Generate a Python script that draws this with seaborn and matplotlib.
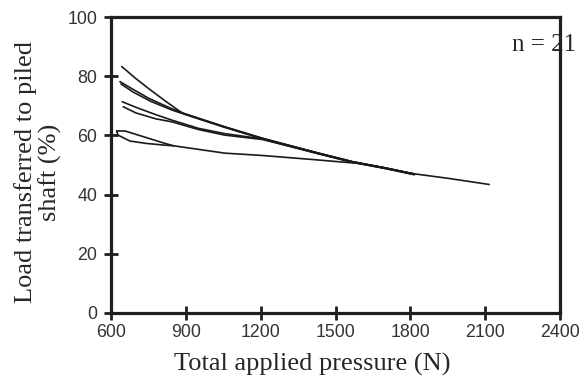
import matplotlib
matplotlib.use("Agg")
import matplotlib.pyplot as plt
import seaborn as sns
import pandas as pd

# Each loop: loading branch and unloading branch (x in N, y in %)
c1_x = [643, 700, 750, 820, 885, 960, 1056, 1208, 1436, 1568, 1700, 1816]
c1_y = [83.3, 79.2, 75.9, 71.5, 67.6, 65.5, 62.9, 59.0, 53.9, 51.1, 49.0, 46.9]

c2a_x = [636, 680, 750, 844, 900, 1056, 1208, 1436, 1568, 1700, 1816]
c2a_y = [78.2, 76.0, 72.6, 69.0, 67.2, 62.9, 59.0, 53.9, 51.1, 49.0, 46.9]
c2b_x = [640, 690, 760, 844, 900, 1056, 1208, 1436, 1568, 1700, 1816]
c2b_y = [77.4, 74.6, 71.5, 68.6, 67.0, 62.7, 58.8, 53.7, 50.9, 48.8, 46.7]

c3a_x = [645, 700, 780, 843, 950, 1056, 1208, 1436, 1568, 1816, 1950, 2116]
c3a_y = [71.4, 69.5, 67.0, 65.2, 62.4, 60.6, 58.8, 53.9, 51.1, 47.0, 45.5, 43.4]
c3b_x = [649, 700, 780, 844, 950, 1056, 1208, 1436, 1568, 1700, 1816]
c3b_y = [69.7, 67.6, 65.6, 64.6, 62.0, 60.1, 58.6, 53.7, 50.9, 48.8, 46.8]

c4a_x = [623, 656, 740, 816, 850, 1056, 1208, 1400, 1596, 1700, 1816]
c4a_y = [61.5, 61.5, 59.3, 57.3, 56.5, 54.0, 53.2, 51.9, 50.5, 49.0, 46.9]
c4b_x = [623, 628, 676, 740, 816, 850]
c4b_y = [61.5, 60.1, 58.1, 57.3, 56.7, 56.5]

x_ticks = [600, 900, 1200, 1500, 1800, 2100, 2400]
y_ticks = [0, 20, 40, 60, 80, 100]

series = {
    "c1": (c1_x, c1_y), "c2a": (c2a_x, c2a_y), "c2b": (c2b_x, c2b_y),
    "c3a": (c3a_x, c3a_y), "c3b": (c3b_x, c3b_y),
    "c4a": (c4a_x, c4a_y), "c4b": (c4b_x, c4b_y),
}
rows = []
for name, (xs, ys) in series.items():
    for x, y in zip(xs, ys):
        rows.append({"curve": name, "x": x, "y": y})
df = pd.DataFrame(rows)

sns.set_style("white")
fig, ax = plt.subplots(figsize=(5.81, 3.81), dpi=100)
fig.subplots_adjust(left=0.191, right=0.964, top=0.955, bottom=0.179)

sns.lineplot(data=df, x="x", y="y", units="curve", estimator=None, sort=False,
             color="#1a1a1a", linewidth=1.2, ax=ax)

ax.set_xlim(600, 2400)
ax.set_ylim(0, 100)
ax.set_xticks(x_ticks)
ax.set_yticks(y_ticks)
for s in ax.spines.values():
    s.set_linewidth(2.3)
    s.set_color("#1f1f1f")
ax.tick_params(axis="both", direction="inout", length=10, width=2, color="#1f1f1f",
               labelsize=12.8, labelcolor="#333333", bottom=True, left=True)
ax.tick_params(axis="x", pad=3)
ax.tick_params(axis="y", pad=5)
for lab in ax.get_xticklabels() + ax.get_yticklabels():
    lab.set_fontfamily("Liberation Sans")

ax.set_xlabel("Total applied pressure (N)", fontfamily="Liberation Serif", fontsize=19)
ax.set_ylabel("Load transferred to piled\nshaft (%)", fontfamily="Liberation Serif",
              fontsize=19, linespacing=1.05)
ax.xaxis.set_label_coords(0.448, -0.135)
ax.yaxis.set_label_coords(-0.11, 0.475)
ax.text(0.893, 0.905, "n = 21", transform=ax.transAxes, fontfamily="Liberation Serif",
        fontsize=18, ha="left", va="center", clip_on=False)

fig.savefig("out.png", dpi=100)
